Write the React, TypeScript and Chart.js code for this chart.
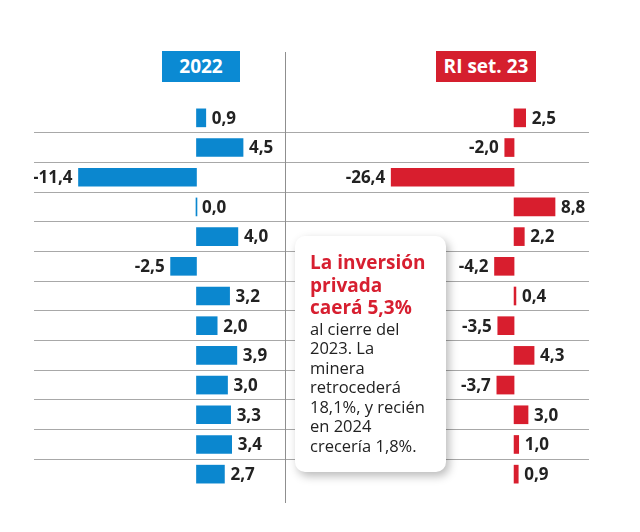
import React, { useEffect, useRef } from "react";
import { Chart, registerables } from "chart.js";

Chart.register(...registerables);

// Row categories (labels are not shown in the reference)
const categories = ["1", "2", "3", "4", "5", "6", "7", "8", "9", "10", "11", "12", "13"];
const values2022 = [0.9, 4.5, -11.4, 0.0, 4.0, -2.5, 3.2, 2.0, 3.9, 3.0, 3.3, 3.4, 2.7];
const valuesRISet23 = [2.5, -2.0, -26.4, 8.8, 2.2, -4.2, 0.4, -3.5, 4.3, -3.7, 3.0, 1.0, 0.9];
const seriesTitles = ["2022", "RI set. 23"];
const noteTitle = ["La inversión", "privada", "caerá 5,3%"];
const noteBody = ["al cierre del", "2023. La", "minera", "retrocederá", "18,1%, y recién", "en 2024", "crecería 1,8%."];

const BLUE = "#0b87cf";
const RED = "#d81e2e";
const GRID = "#a8a8a8";

const fmt = (v: number) => v.toFixed(1).replace(".", ",");

const valueLabelPlugin = {
  id: "valueLabels",
  afterDatasetsDraw(chart: any) {
    const ctx = chart.ctx;
    const meta = chart.getDatasetMeta(0);
    const data = chart.data.datasets[0].data as number[];
    ctx.save();
    ctx.font = 'bold 17px "Open Sans", sans-serif';
    ctx.fillStyle = "#222";
    ctx.textBaseline = "middle";
    meta.data.forEach((el: any, i: number) => {
      const v = data[i];
      const { x, y } = el.getProps(["x", "y"], true);
      if (v < 0) {
        ctx.textAlign = "right";
        ctx.fillText(fmt(v), x - 6, y + 1);
      } else {
        ctx.textAlign = "left";
        ctx.fillText(fmt(v), x + 6, y + 1);
      }
    });
    ctx.restore();
  },
};

function BarPanel(props: {
  values: number[];
  color: string;
  min: number;
  max: number;
  width: number;
  height: number;
  left: number;
  top: number;
}) {
  const ref = useRef<HTMLCanvasElement | null>(null);
  useEffect(() => {
    if (!ref.current) return;
    const n = categories.length;
    const chart = new Chart(ref.current, {
      type: "bar",
      data: {
        labels: categories,
        datasets: [
          {
            data: props.values,
            backgroundColor: props.color,
            borderWidth: 0,
            barThickness: 18,
            minBarLength: 1,
          },
        ],
      },
      options: {
        indexAxis: "y",
        responsive: false,
        animation: false,
        layout: { padding: 0 },
        plugins: { legend: { display: false }, tooltip: { enabled: false }, title: { display: false } },
        scales: {
          x: { type: "linear", min: props.min, max: props.max, display: false },
          y: {
            type: "category",
            offset: true,
            grid: {
              offset: true,
              drawTicks: false,
              lineWidth: 1,
              color: (c: any) => (c.index === 0 || c.index === n ? "rgba(0,0,0,0)" : GRID),
            },
            border: { display: false },
            ticks: { display: false },
          },
        },
      },
      plugins: [valueLabelPlugin],
    } as any);
    return () => chart.destroy();
  }, []);
  return (
    <canvas
      ref={ref}
      width={props.width}
      height={props.height}
      style={{ position: "absolute", left: props.left, top: props.top, width: props.width, height: props.height }}
    />
  );
}

export default function App() {
  const headerStyle: React.CSSProperties = {
    position: "absolute",
    top: 51,
    height: 31,
    lineHeight: "31px",
    color: "#fff",
    fontWeight: 700,
    fontSize: 19,
    textAlign: "center",
  };
  return (
    <div
      style={{
        position: "absolute",
        left: 0,
        top: 0,
        width: 640,
        height: 532,
        background: "#fff",
        fontFamily: '"Open Sans", sans-serif',
        overflow: "hidden",
      }}
    >
      <div style={{ ...headerStyle, left: 162, width: 78, background: "#0b8ad3" }}>{seriesTitles[0]}</div>
      <div style={{ ...headerStyle, left: 436, width: 100, background: "#d51f2e" }}>{seriesTitles[1]}</div>

      <BarPanel values={values2022} color={BLUE} min={-15.7} max={8.65} width={252} height={386} left={34} top={103} />
      <BarPanel values={valuesRISet23} color={RED} min={-49.0} max={16.1} width={303} height={386} left={286} top={103} />

      <div style={{ position: "absolute", left: 285, top: 52, width: 1, height: 451, background: "#8f8f8f" }} />

      <div
        style={{
          position: "absolute",
          left: 295,
          top: 236,
          width: 151,
          height: 236,
          boxSizing: "border-box",
          padding: "15px 0 0 15px",
          background: "#fff",
          borderRadius: 10,
          boxShadow: "3px 4px 10px rgba(0,0,0,0.28)",
        }}
      >
        <div style={{ color: "#d71f30", fontWeight: 700, fontSize: 19, lineHeight: "22.5px", whiteSpace: "nowrap" }}>
          {noteTitle.map((t, i) => (
            <div key={i}>{t}</div>
          ))}
        </div>
        <div style={{ color: "#222", fontSize: 16.5, lineHeight: "19.6px", whiteSpace: "nowrap" }}>
          {noteBody.map((t, i) => (
            <div key={i}>{t}</div>
          ))}
        </div>
      </div>
    </div>
  );
}
